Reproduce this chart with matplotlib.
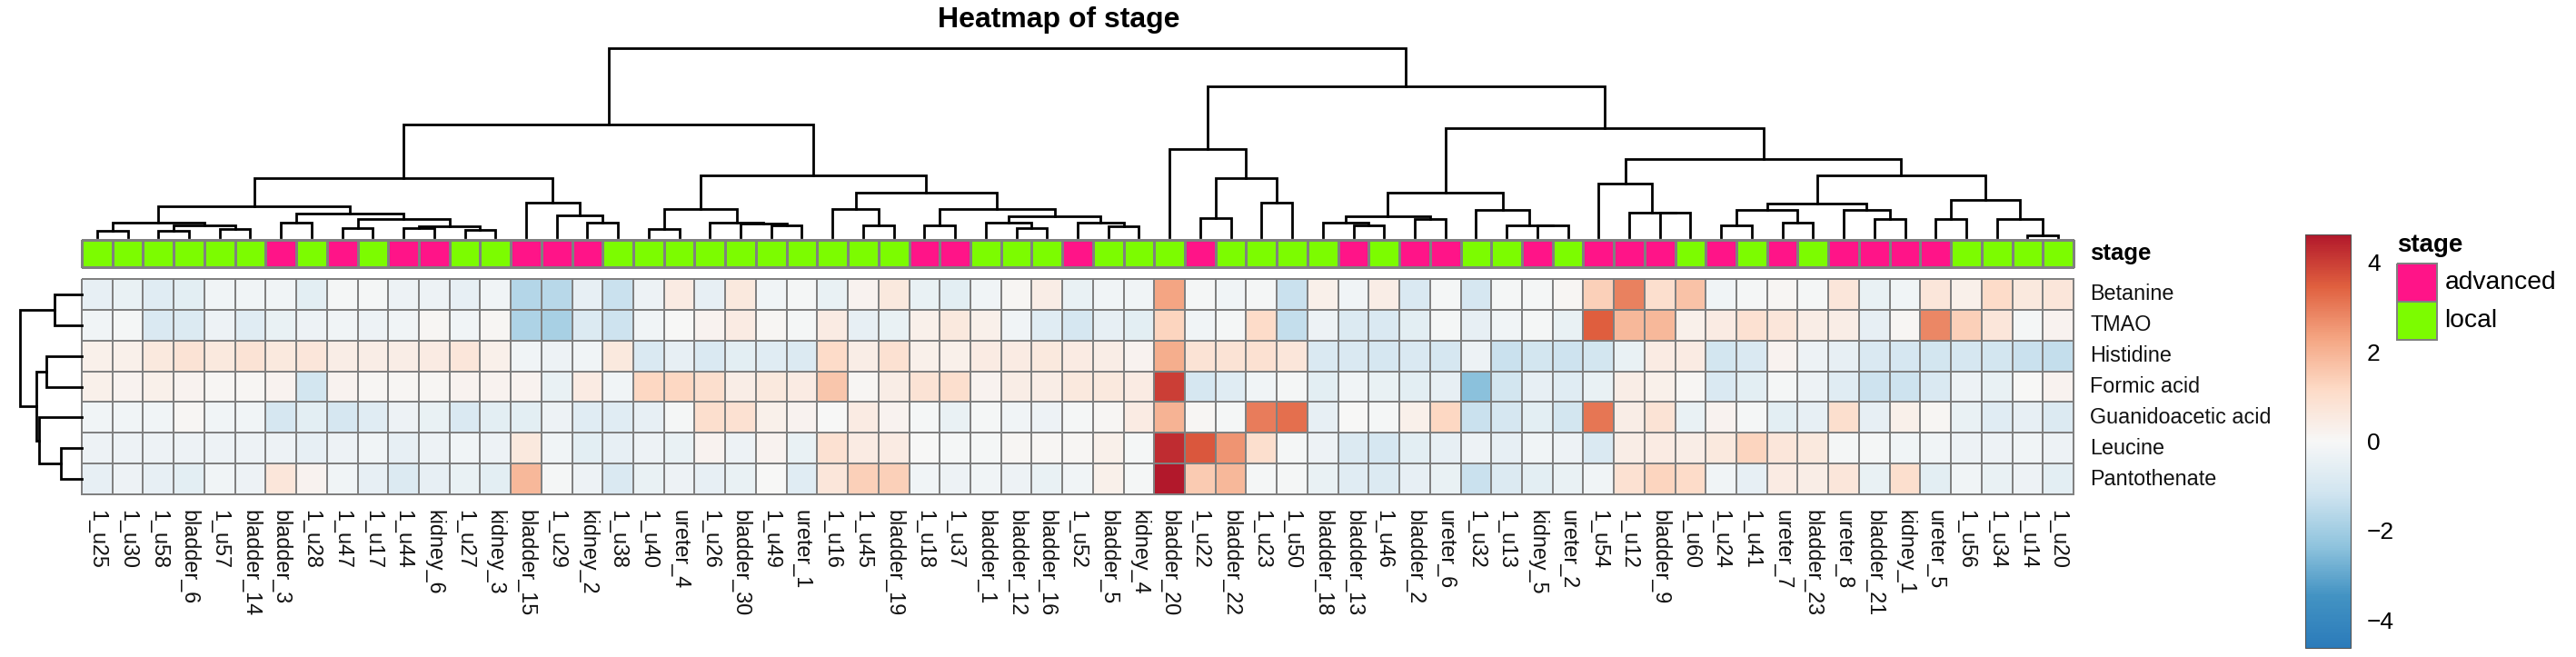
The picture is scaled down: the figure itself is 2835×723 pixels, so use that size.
import matplotlib
matplotlib.use("Agg")
import matplotlib.pyplot as plt
import numpy as np
from matplotlib.colors import LinearSegmentedColormap, ListedColormap, Normalize
from matplotlib.cm import ScalarMappable

plt.rcParams['font.family'] = ['Liberation Sans', 'DejaVu Sans']

samples = ["1_u25","1_u30","1_u58","bladder_6","1_u57","bladder_14","bladder_3","1_u28","1_u47","1_u17",
           "1_u44","kidney_6","1_u27","kidney_3","bladder_15","1_u29","kidney_2","1_u38","1_u40","ureter_4",
           "1_u26","bladder_30","1_u49","ureter_1","1_u16","1_u45","bladder_19","1_u18","1_u37","bladder_1",
           "bladder_12","bladder_16","1_u52","bladder_5","kidney_4","bladder_20","1_u22","bladder_22","1_u23","1_u50",
           "bladder_18","bladder_13","1_u46","bladder_2","ureter_6","1_u32","1_u13","kidney_5","ureter_2","1_u54",
           "1_u12","bladder_9","1_u60","1_u24","1_u41","ureter_7","bladder_23","ureter_8","bladder_21","kidney_1",
           "ureter_5","1_u56","1_u34","1_u14","1_u20"]
metabolites = ["Betanine","TMAO","Histidine","Formic acid","Guanidoacetic acid","Leucine","Pantothenate"]
stage_names = ["advanced","local"]
# 0 = advanced, 1 = local
stage = [1,1,1,1,1,1,0,1,0,1,0,0,1,1,0,0,0,1,1,1,1,1,1,1,1,1,1,0,0,1,1,1,0,1,1,1,0,1,1,1,1,0,1,0,0,
         1,1,0,1,0,0,0,1,0,1,0,1,0,0,0,0,1,1,1,1]

betanine = [-0.5,-0.4,-0.7,-0.6,-0.2,-0.2,-0.2,-0.6,-0.1,-0.1,-0.3,-0.3,-0.5,-0.2,-1.7,-1.6,-0.5,-1.3,-0.3,0.5,
            -0.5,0.6,-0.2,-0.1,-0.4,0.2,0.6,-0.4,-0.6,-0.2,0.1,0.4,-0.4,-0.2,-0.2,2.3,-0.1,-0.2,-0.1,-1.3,
            0.3,-0.2,0.4,-0.9,-0.1,-1.0,-0.1,-0.1,0.1,1.4,2.9,1.0,1.7,-0.2,-0.1,0.1,-0.1,0.7,-0.4,-0.2,
            0.7,0.3,1.1,0.6,0.7]
tmao = [-0.2,-0.1,-0.9,-0.8,-0.3,-0.7,-0.4,-0.3,-0.2,-0.3,-0.2,0.1,-0.2,0.1,-1.8,-1.9,-0.8,-1.2,-0.2,0.0,
        0.2,0.5,0.1,-0.1,0.5,-0.5,-0.4,0.3,0.6,0.3,-0.2,-0.7,-1.0,-0.5,-0.6,1.3,-0.2,-0.1,1.1,-1.4,
        -0.3,-0.8,-0.9,-0.6,-0.1,-0.5,-0.2,-0.1,-0.4,3.5,1.9,1.9,0.3,0.5,0.9,0.7,0.4,0.4,-0.5,0.1,
        2.8,1.4,0.7,-0.1,0.2]
histidine = [0.3,0.3,0.6,0.8,0.6,0.8,0.6,0.7,0.4,0.4,0.4,0.5,0.7,0.3,-0.2,-0.3,-0.2,0.6,-0.9,-0.5,
             -0.9,-0.6,-0.7,-0.8,1.1,0.4,0.9,0.3,0.3,0.5,0.5,0.6,0.5,0.4,0.2,2.1,0.8,0.8,0.9,0.7,
             -0.9,-0.9,-1.0,-0.9,-1.0,-0.3,-1.3,-1.1,-1.2,-1.1,-0.4,0.5,0.5,-1.1,-0.9,0.2,-0.3,-0.5,-0.9,-1.0,
             -1.1,-1.0,-1.1,-1.3,-1.4]
formic = [0.3,0.2,0.3,0.2,0.1,0.1,0.2,-1.1,0.2,0.1,0.1,0.1,0.2,0.2,0.2,-0.4,0.5,-0.2,1.2,1.2,
          1.0,0.4,0.6,0.5,1.6,0.1,0.4,0.8,1.0,0.2,0.4,0.4,0.6,0.6,0.5,4.0,-1.0,-0.7,-0.2,-0.1,
          -0.6,-0.2,-0.4,-0.6,-0.5,-2.4,-1.1,-0.5,-0.7,-0.4,0.4,0.3,0.1,-0.9,-0.6,-0.1,-0.3,-0.7,-1.2,-1.2,
          -0.9,-0.3,-0.4,0.0,0.2]
guanido = [-0.2,-0.2,-0.2,0.1,-0.2,-0.2,-1.0,-0.6,-1.0,-0.7,-0.3,-0.4,-0.9,-0.6,-0.6,-0.3,-0.7,-0.7,-0.5,-0.1,
           1.0,0.9,0.3,0.2,0.0,0.5,0.2,-0.1,-0.4,-0.1,-0.2,-0.3,-0.1,0.1,0.5,2.0,0.1,-0.1,3.0,3.2,
           -0.5,0.0,-0.1,0.3,1.2,-1.3,-1.0,-0.6,-1.1,3.1,0.4,0.8,-0.4,0.2,-0.1,-0.6,-0.5,1.0,-0.5,0.3,
           0.1,-0.4,-0.7,-0.5,-0.8]
leucine = [-0.3,-0.3,-0.3,-0.3,-0.3,-0.3,-0.3,-0.5,-0.3,-0.2,-0.5,-0.3,-0.2,-0.3,0.6,-0.2,-0.6,-0.5,-0.3,-0.4,
           0.2,-0.3,0.2,-0.4,0.9,0.5,0.5,0.0,-0.1,-0.1,0.1,0.1,0.1,0.3,-0.1,4.3,3.6,2.6,1.0,-0.1,
           -0.3,-0.8,-1.0,-0.6,-0.5,-0.3,-0.5,-0.2,-0.3,-0.9,0.4,0.5,0.4,0.6,1.3,0.7,0.6,-0.1,-0.1,-0.2,
           -0.2,-0.3,-0.3,-0.2,-0.3]
pantothenate = [-0.5,-0.3,-0.5,-0.6,-0.2,-0.3,0.7,0.2,-0.2,-0.5,-0.8,-0.5,-0.4,-0.6,1.9,-0.1,-0.3,-0.9,-0.4,-0.3,
                -0.5,-0.4,0.0,-0.7,0.7,1.4,1.4,-0.2,-0.3,-0.2,-0.3,-0.4,-0.2,0.3,-0.1,4.6,1.5,1.9,-0.1,-0.1,
                -0.4,-0.7,-0.8,-0.5,-0.4,-1.3,-0.8,-0.6,-0.4,-0.2,0.9,1.3,1.1,-0.2,-0.5,0.5,0.4,0.7,-0.4,1.0,
                -0.6,-0.2,-0.4,-0.3,-0.6]
values = [betanine, tmao, histidine, formic, guanido, leucine, pantothenate]

# trees: (height, left, right); an int is a leaf, numbered from 1
def H(y):
    return (782 - y) / 3.0

col_tree = (H(158),
  (H(410),
    (H(587),
      (H(680),
        (H(733), (H(762), 1, 2), (H(742), (H(762), 3, 4), (H(755), 5, 6))),
        (H(705), (H(733), 7, 8), (H(722), (H(752), 9, 10), (H(745), (H(752), 11, 12), (H(757), 13, 14))))),
      (H(668), 15, (H(710), 16, (H(733), 17, 18)))),
    (H(577),
      (H(690), (H(755), 19, 20), (H(733), 21, (H(737), 22, (H(743), 23, 24)))),
      (H(635),
        (H(690), 25, (H(742), 26, 27)),
        (H(690), (H(742), 28, 29),
          (H(712), (H(733), 30, (H(752), 31, 32)), (H(735), 33, (H(745), 34, 35))))))),
  (H(285),
    (H(492), 36, (H(587), (H(720), 37, 38), (H(668), 39, 40))),
    (H(422),
      (H(635),
        (H(712), (H(733), 41, (H(742), 42, 43)), (H(722), 44, 45)),
        (H(692), 46, (H(742), 47, (H(743), 48, 49)))),
      (H(523),
        (H(605), 50, (H(701), 51, (H(702), 52, 53))),
        (H(577),
          (H(670),
            (H(692), (H(742), 54, 55), (H(735), 56, 57)),
            (H(692), 58, (H(722), 59, 60))),
          (H(660), (H(722), 61, 62), (H(722), 63, (H(775), 64, 65))))))))

row_tree = (68, (30, 1, 2), (50, (39, 3, 4), (47, 5, (23, 6, 7))))

W, HT = 2835, 723
fig = plt.figure(figsize=(W / 100, HT / 100), dpi=100, facecolor='white')

def axpx(x0, y0, x1, y1):
    a = fig.add_axes([x0 / W, 1 - y1 / HT, (x1 - x0) / W, (y1 - y0) / HT])
    a.set_axis_off()
    return a

GRID = '#808080'
HX0, HX1 = 90, 2282
cmap = LinearSegmentedColormap.from_list('heat', ["#2b7bba","#4393c3","#92c5de","#d1e5f0","#f7f7f7",
                                                  "#fddbc7","#f4a582","#e0603f","#b2182b"])
norm = Normalize(-4.63, 4.63)

# heatmap
ax = axpx(HX0, 307, HX1, 544)
ax.pcolormesh(np.array(values), cmap=cmap, norm=norm, edgecolors=GRID, linewidth=1.2, clip_on=False)
ax.set_xlim(0, len(samples)); ax.set_ylim(len(metabolites), 0)
for j, s in enumerate(samples):
    ax.annotate(s, (j + 0.5, len(metabolites)), xytext=(0, -12.5), textcoords='offset points',
                rotation=270, ha='center', va='top', fontsize=16.8, color='#111111', annotation_clip=False)
for i, m in enumerate(metabolites):
    ax.annotate(m, (len(samples), i + 0.5), xytext=(13, 0), textcoords='offset points',
                ha='left', va='center', fontsize=16.8, color='#111111', annotation_clip=False)

# annotation strip
stage_cmap = ListedColormap(['#FF1488', '#7CFC00'])
sx = axpx(HX0, 264, HX1, 294)
sx.pcolormesh(np.array([stage]), cmap=stage_cmap, vmin=0, vmax=1, edgecolors=GRID, linewidth=1.0, clip_on=False)
sx.set_xlim(0, len(samples)); sx.set_ylim(1, 0)
sx.annotate('stage', (len(samples), 0.5), xytext=(13, 0), textcoords='offset points', ha='left', va='center',
            fontsize=18.5, fontweight='bold', annotation_clip=False)

# dendrograms
def walk(node, seg):
    if isinstance(node, int):
        return node - 0.5, 0.0
    h, l, r = node
    pl, hl = walk(l, seg)
    pr, hr = walk(r, seg)
    seg.append(([pl, pl, pr, pr], [hl, h, h, hr]))
    return (pl + pr) / 2, h

dx = axpx(HX0, 53, HX1, 261)
segs = []
walk(col_tree, segs)
for p, h in segs:
    dx.plot(p, h, color='black', lw=2.0, solid_joinstyle='miter', clip_on=False)
dx.set_xlim(0, len(samples)); dx.set_ylim(0, col_tree[0])

rx = axpx(22, 307, 90, 544)
segs = []
walk(row_tree, segs)
for p, h in segs:
    rx.plot(h, p, color='black', lw=2.0, solid_joinstyle='miter', clip_on=False)
rx.set_xlim(row_tree[0], 0); rx.set_ylim(len(metabolites), 0)

# colour bar
cax = fig.add_axes([2537 / W, 1 - 713 / HT, 50 / W, 455 / HT])
cb = fig.colorbar(ScalarMappable(norm=norm, cmap=cmap), cax=cax, ticks=[-4, -2, 0, 2, 4])
cb.ax.tick_params(length=0, labelsize=19, pad=13)
cb.outline.set_edgecolor('#555555')
cb.outline.set_linewidth(0.8)

# legend
lx = axpx(2638, 290, 2682, 374)
lx.pcolormesh(np.array([[0], [1]]), cmap=stage_cmap, vmin=0, vmax=1, edgecolors=GRID, linewidth=1.2, clip_on=False)
lx.set_ylim(2, 0)
for i, n in enumerate(stage_names):
    lx.annotate(n, (1, i + 0.5), xytext=(6, 0), textcoords='offset points', ha='left', va='center',
                fontsize=20.3, annotation_clip=False)
lx.annotate('stage', (0, 0), xytext=(0, 5), textcoords='offset points', ha='left', va='bottom',
            fontsize=20, fontweight='bold', annotation_clip=False)

fig.text(1165 / W, 1 - 22 / HT, 'Heatmap of stage', ha='center', va='center', fontsize=23, fontweight='bold')
fig.savefig('out.png', dpi=100)
